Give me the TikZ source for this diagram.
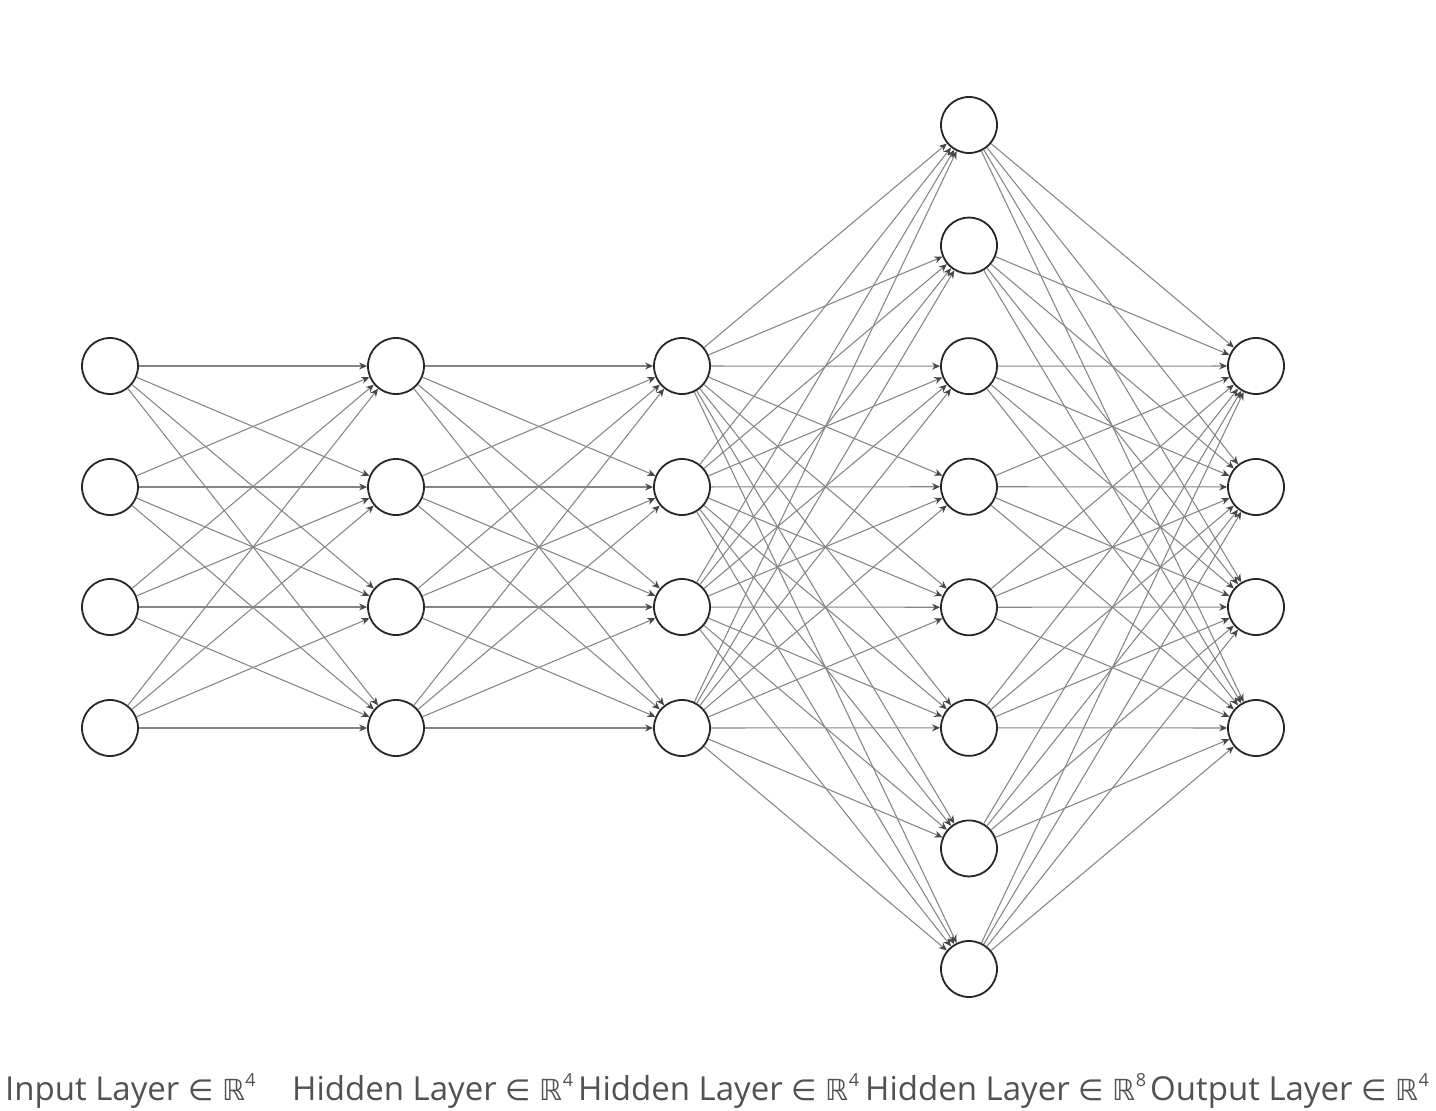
\documentclass[tikz,border=0pt]{standalone}
\usepackage{fontspec}
\setmainfont{Open Sans}
\newfontfamily\symfont{DejaVu Sans}
\usetikzlibrary{arrows.meta}
% exponent of the layer dimension
\newcommand\dimsup[1]{\raisebox{14pt}{\fontsize{18}{18}\selectfont #1}}
\newcommand\inR{{\symfont\fontsize{29}{34}\selectfont ∈ ℝ}}
\begin{document}
\begin{tikzpicture}[x=1pt,y=-1pt,
  neuron/.style={circle,draw=black!85,line width=1.8pt,fill=white,minimum size=56pt,inner sep=0pt},
  link/.style={draw=black!48,line width=1.05pt,-{Stealth[length=8pt,width=7pt,color=black!72]}},
  layerlabel/.style={anchor=base west,inner sep=0pt,font=\fontsize{33}{38}\selectfont,text=black!68}]
\useasboundingbox[fill=white] (0,0) rectangle (1436,1111);

% four-unit layers
\foreach \i/\y in {1/366,2/487,3/607,4/728}{
  \node[neuron] (a\i) at (110,\y) {};
  \node[neuron] (b\i) at (396,\y) {};
  \node[neuron] (c\i) at (682,\y) {};
  \node[neuron] (e\i) at (1256,\y) {};
}
% eight-unit layer
\foreach \i in {1,...,8}
  \node[neuron] (d\i) at (969,{125+120.57*(\i-1)}) {};

% fully connected links
\foreach \i in {1,...,4}{
  \foreach \j in {1,...,4}{
    \draw[link] (a\i) -- (b\j);
    \draw[link] (b\i) -- (c\j);
  }
  \foreach \j in {1,...,8}{
    \draw[link] (c\i) -- (d\j);
    \draw[link] (d\j) -- (e\i);
  }
}

% layer captions
\node[layerlabel] (l1) at (5,1100) {Input Layer \inR\dimsup{4}};
\node[layerlabel] (l2) at (292,1100) {Hidden Layer \inR\dimsup{4}};
\node[layerlabel] (l3) at (578,1100) {Hidden Layer \inR\dimsup{4}};
\node[layerlabel] (l4) at (865,1100) {Hidden Layer \inR\dimsup{8}};
\node[layerlabel] (l5) at (1150,1100) {Output Layer \inR\dimsup{4}};
\end{tikzpicture}
\end{document}
